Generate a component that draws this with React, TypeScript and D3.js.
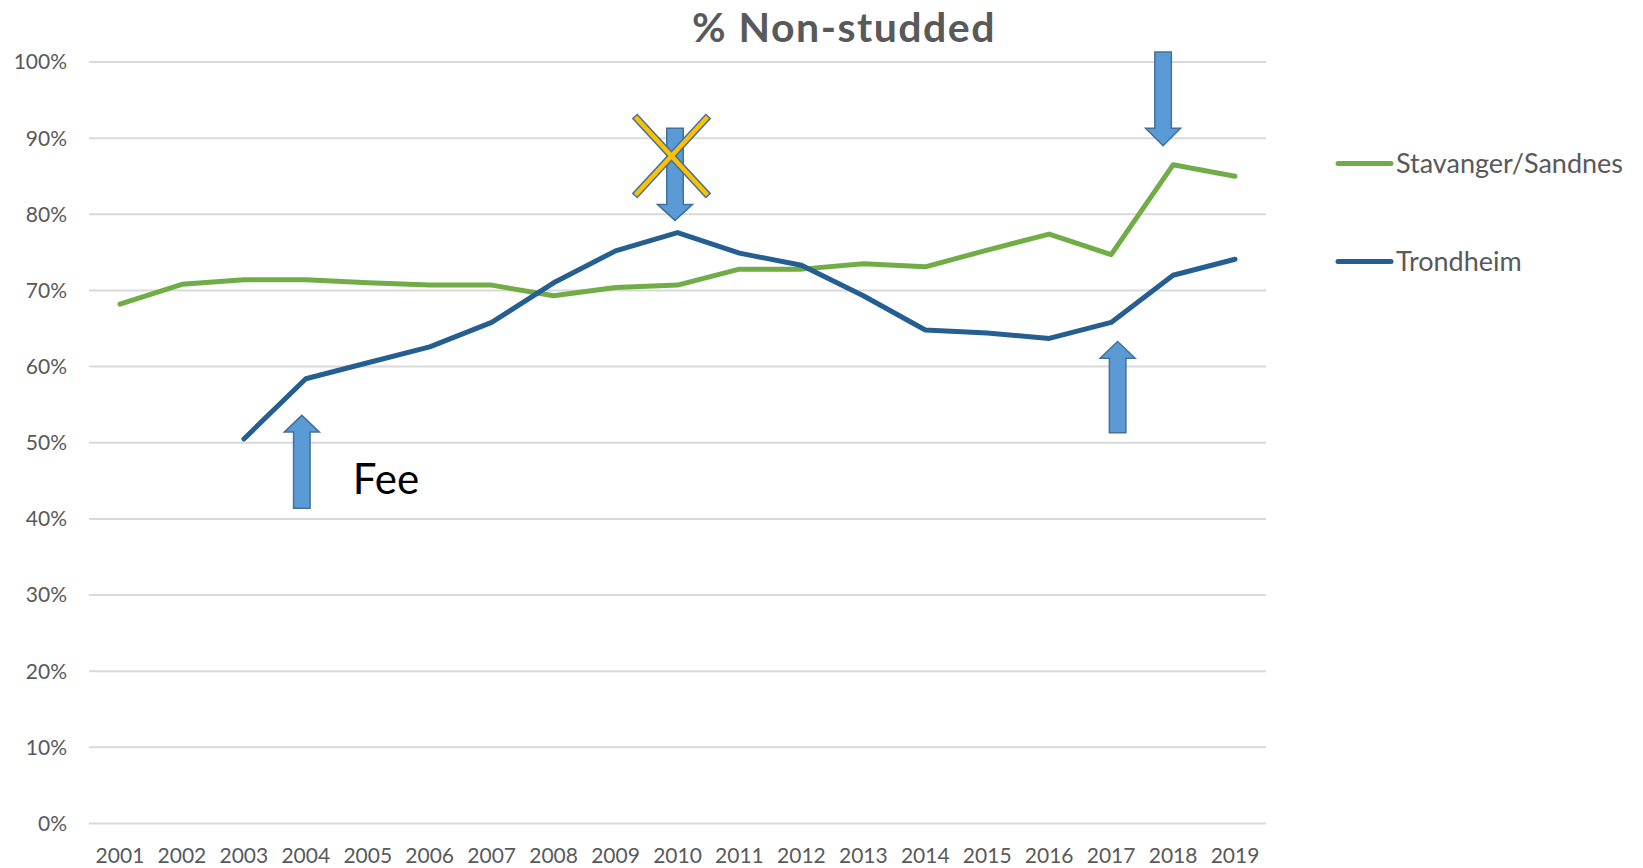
import React, { useEffect, useRef } from "react";
import * as d3 from "d3";

const years = [
  "2001", "2002", "2003", "2004", "2005", "2006", "2007", "2008", "2009", "2010",
  "2011", "2012", "2013", "2014", "2015", "2016", "2017", "2018", "2019",
];

const stavanger = [
  68.2, 70.8, 71.4, 71.4, 71.0, 70.7, 70.7, 69.3, 70.4, 70.7,
  72.8, 72.8, 73.5, 73.1, 75.3, 77.4, 74.7, 86.5, 85.0,
];

// no data before 2003
const trondheim = [
  null, null, 50.5, 58.4, 60.5, 62.6, 65.8, 71.0, 75.2, 77.6,
  74.9, 73.3, 69.3, 64.8, 64.4, 63.7, 65.8, 72.0, 74.1,
];

const yTicks = [0, 10, 20, 30, 40, 50, 60, 70, 80, 90, 100];

const seriesNames = ["Stavanger/Sandnes", "Trondheim"];
const seriesColors = ["#70AD47", "#255E91"];

// block arrows: year, pixel nudge, tip / head base / tail in % units
const arrows = [
  { year: "2004", dx: -4, tip: 53.6, head: 51.4, tail: 41.4 },
  { year: "2010", dx: -2.5, tip: 79.2, head: 81.3, tail: 91.3 },
  { year: "2017", dx: 6.5, tip: 63.3, head: 61.1, tail: 51.3 },
  { year: "2018", dx: -10, tip: 89.0, head: 91.3, tail: 101.3 },
];

const App = () => {
  const svgRef = useRef<SVGSVGElement>(null);

  useEffect(() => {
    const svg = d3.select(svgRef.current);
    svg.selectAll("*").remove();

    const width = 1643;
    const height = 868;
    const margin = { top: 62, right: 377, bottom: 44.5, left: 89 };
    const font = "Lato, 'Open Sans', sans-serif";

    const x = d3
      .scaleBand()
      .domain(years)
      .range([margin.left, width - margin.right]);

    const y = d3
      .scaleLinear()
      .domain([0, 100])
      .range([height - margin.bottom, margin.top]);

    const cx = (yr) => x(yr) + x.bandwidth() / 2;

    svg
      .append("rect")
      .attr("width", width)
      .attr("height", height)
      .attr("fill", "white");

    // gridlines
    svg
      .append("g")
      .selectAll("line")
      .data(yTicks)
      .join("line")
      .attr("x1", margin.left)
      .attr("x2", width - margin.right)
      .attr("y1", (d) => y(d))
      .attr("y2", (d) => y(d))
      .attr("stroke", "#D9D9D9")
      .attr("stroke-width", 2);

    // y labels
    svg
      .append("g")
      .selectAll("text")
      .data(yTicks)
      .join("text")
      .attr("x", 67)
      .attr("y", (d) => y(d))
      .attr("dy", "0.35em")
      .attr("text-anchor", "end")
      .style("font-family", font)
      .style("font-size", "21px")
      .attr("fill", "#595959")
      .text((d) => `${d}%`);

    // x labels
    svg
      .append("g")
      .selectAll("text")
      .data(years)
      .join("text")
      .attr("x", (d) => cx(d))
      .attr("y", 863)
      .attr("text-anchor", "middle")
      .style("font-family", font)
      .style("font-size", "21px")
      .attr("fill", "#595959")
      .text((d) => d);

    // lines
    const line = d3
      .line()
      .defined((d) => d[1] != null)
      .x((d) => cx(d[0]))
      .y((d) => y(d[1]));

    [stavanger, trondheim].forEach((vals, i) => {
      svg
        .append("path")
        .datum(years.map((yr, j) => [yr, vals[j]]))
        .attr("d", line)
        .attr("fill", "none")
        .attr("stroke", seriesColors[i])
        .attr("stroke-width", 5)
        .attr("stroke-linecap", "round")
        .attr("stroke-linejoin", "round");
    });

    // title
    svg
      .append("text")
      .attr("x", 844)
      .attr("y", 42)
      .attr("text-anchor", "middle")
      .style("font-family", font)
      .style("font-size", "41px")
      .style("font-weight", "bold")
      .style("letter-spacing", "1.5px")
      .attr("fill", "#595959")
      .text("% Non-studded");

    // legend
    const legend = svg
      .selectAll(".legend")
      .data(seriesNames)
      .join("g")
      .attr("transform", (d, i) => `translate(1338, ${163.5 + i * 98})`);

    legend
      .append("line")
      .attr("x1", 0)
      .attr("x2", 53)
      .attr("stroke", (d, i) => seriesColors[i])
      .attr("stroke-width", 5)
      .attr("stroke-linecap", "round");

    legend
      .append("text")
      .attr("x", 58)
      .attr("y", 9)
      .style("font-family", font)
      .style("font-size", "27px")
      .attr("fill", "#595959")
      .text((d) => d);

    // annotation arrows
    const shaftW = 16.5;
    const headW = 35;
    const arrowPath = (a) => {
      const c = cx(a.year) + a.dx;
      const tip = y(a.tip);
      const head = y(a.head);
      const tail = y(a.tail);
      return (
        `M${c},${tip}L${c + headW / 2},${head}L${c + shaftW / 2},${head}` +
        `L${c + shaftW / 2},${tail}L${c - shaftW / 2},${tail}` +
        `L${c - shaftW / 2},${head}L${c - headW / 2},${head}Z`
      );
    };

    svg
      .append("g")
      .selectAll("path")
      .data(arrows)
      .join("path")
      .attr("d", arrowPath)
      .attr("fill", "#5B9BD5")
      .attr("stroke", "#41719C")
      .attr("stroke-width", 1.5);

    // the crossed-out arrow at 2010
    const crossX = cx("2010") - 6;
    const crossY = y(87.65);
    const cross = svg.append("g").attr("transform", `translate(${crossX},${crossY})`);
    [
      [-37, -40, 37, 40],
      [37, -40, -37, 40],
    ].forEach(([x1, y1, x2, y2]) => {
      cross
        .append("line")
        .attr("x1", x1)
        .attr("y1", y1)
        .attr("x2", x2)
        .attr("y2", y2)
        .attr("stroke", "#41719C")
        .attr("stroke-width", 7.5);
    });
    [
      [-36, -39, 36, 39],
      [36, -39, -36, 39],
    ].forEach(([x1, y1, x2, y2]) => {
      cross
        .append("line")
        .attr("x1", x1)
        .attr("y1", y1)
        .attr("x2", x2)
        .attr("y2", y2)
        .attr("stroke", "#FFC000")
        .attr("stroke-width", 4.5);
    });

    // "Fee" label
    svg
      .append("text")
      .attr("x", cx("2004") + 47)
      .attr("y", 494)
      .style("font-family", font)
      .style("font-size", "42px")
      .attr("fill", "#000000")
      .text("Fee");
  }, []);

  return (
    <svg
      ref={svgRef}
      width={1643}
      height={868}
      style={{ position: "absolute", left: 0, top: 0, display: "block" }}
    ></svg>
  );
};

export default App;
